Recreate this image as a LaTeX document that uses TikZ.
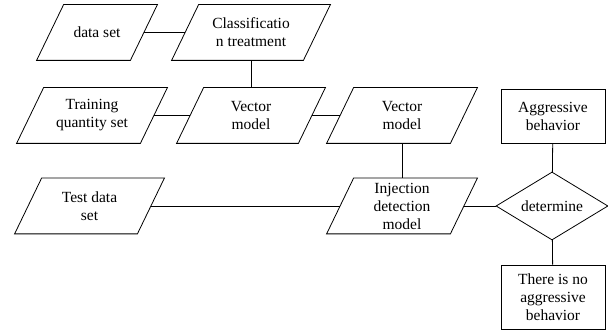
\documentclass[tikz,border=0pt]{standalone}
\usepackage{fontspec}
\setmainfont{Liberation Serif}
\usetikzlibrary{shapes.geometric}
\tikzstyle{io} = [rectangle, minimum height=55pt, inner sep=0pt, align=center,
  font=\fontsize{15.5}{18}\selectfont]
\tikzstyle{box} = [rectangle, draw, minimum width=104pt, minimum height=54pt,
  inner sep=0pt, align=center, font=\fontsize{15.5}{18}\selectfont]
\tikzstyle{decide} = [diamond, draw, minimum width=112pt, minimum height=68pt,
  aspect=1.65, inner sep=0pt, font=\fontsize{15.5}{18}\selectfont]
% slanted outline round an io node
\newcommand{\slantbox}[1]{%
  \draw ([xshift=13.5pt]#1.north west) -- ([xshift=13.5pt]#1.north east)
    -- ([xshift=-13.5pt]#1.south east) -- ([xshift=-13.5pt]#1.south west) -- cycle;}

\begin{document}
\begin{tikzpicture}[x=1pt, y=-1pt, line width=0.8pt]
  \useasboundingbox (0,0) rectangle (608,331);
  \node (data) at ( 97,32.5) [io, minimum width=93pt] {data set};
  \node (cls) at ( 251,32.5) [io, minimum width=131pt] {Classificatio\\n treatment};
  \node (train) at ( 92,115.5) [io, minimum width=123pt] {Training\\quantity set};
  \node (vec1) at ( 251,115.5) [io, minimum width=121pt] {Vector\\model};
  \node (vec2) at ( 402,115.5) [io, minimum width=123pt] {Vector\\model};
  \node (test) at ( 89.5,206) [io, minimum width=122pt] {Test data\\set};
  \node (inj) at ( 402,206) [io, minimum width=123pt] {Injection\\detection\\model};
  \node (det) at ( 552,206) [decide] {determine};
  \node (agg) at ( 553,116) [box] {Aggressive\\behavior};
  \node (noagg) at ( 553,297) [box, minimum height=64pt] {There is no\\aggressive\\behavior};
  \foreach \n in {data,cls,train,vec1,vec2,test,inj}
    \slantbox{\n};
  \draw (data) -- (cls);
  \draw (cls) -- (vec1);
  \draw (train) -- (vec1);
  \draw (vec1) -- (vec2);
  \draw (vec2) -- (inj);
  \draw (test) -- (inj);
  \draw (inj) -- (det);
  \draw (agg) -- (det);
  \draw (det) -- (noagg);
\end{tikzpicture}
\end{document}
